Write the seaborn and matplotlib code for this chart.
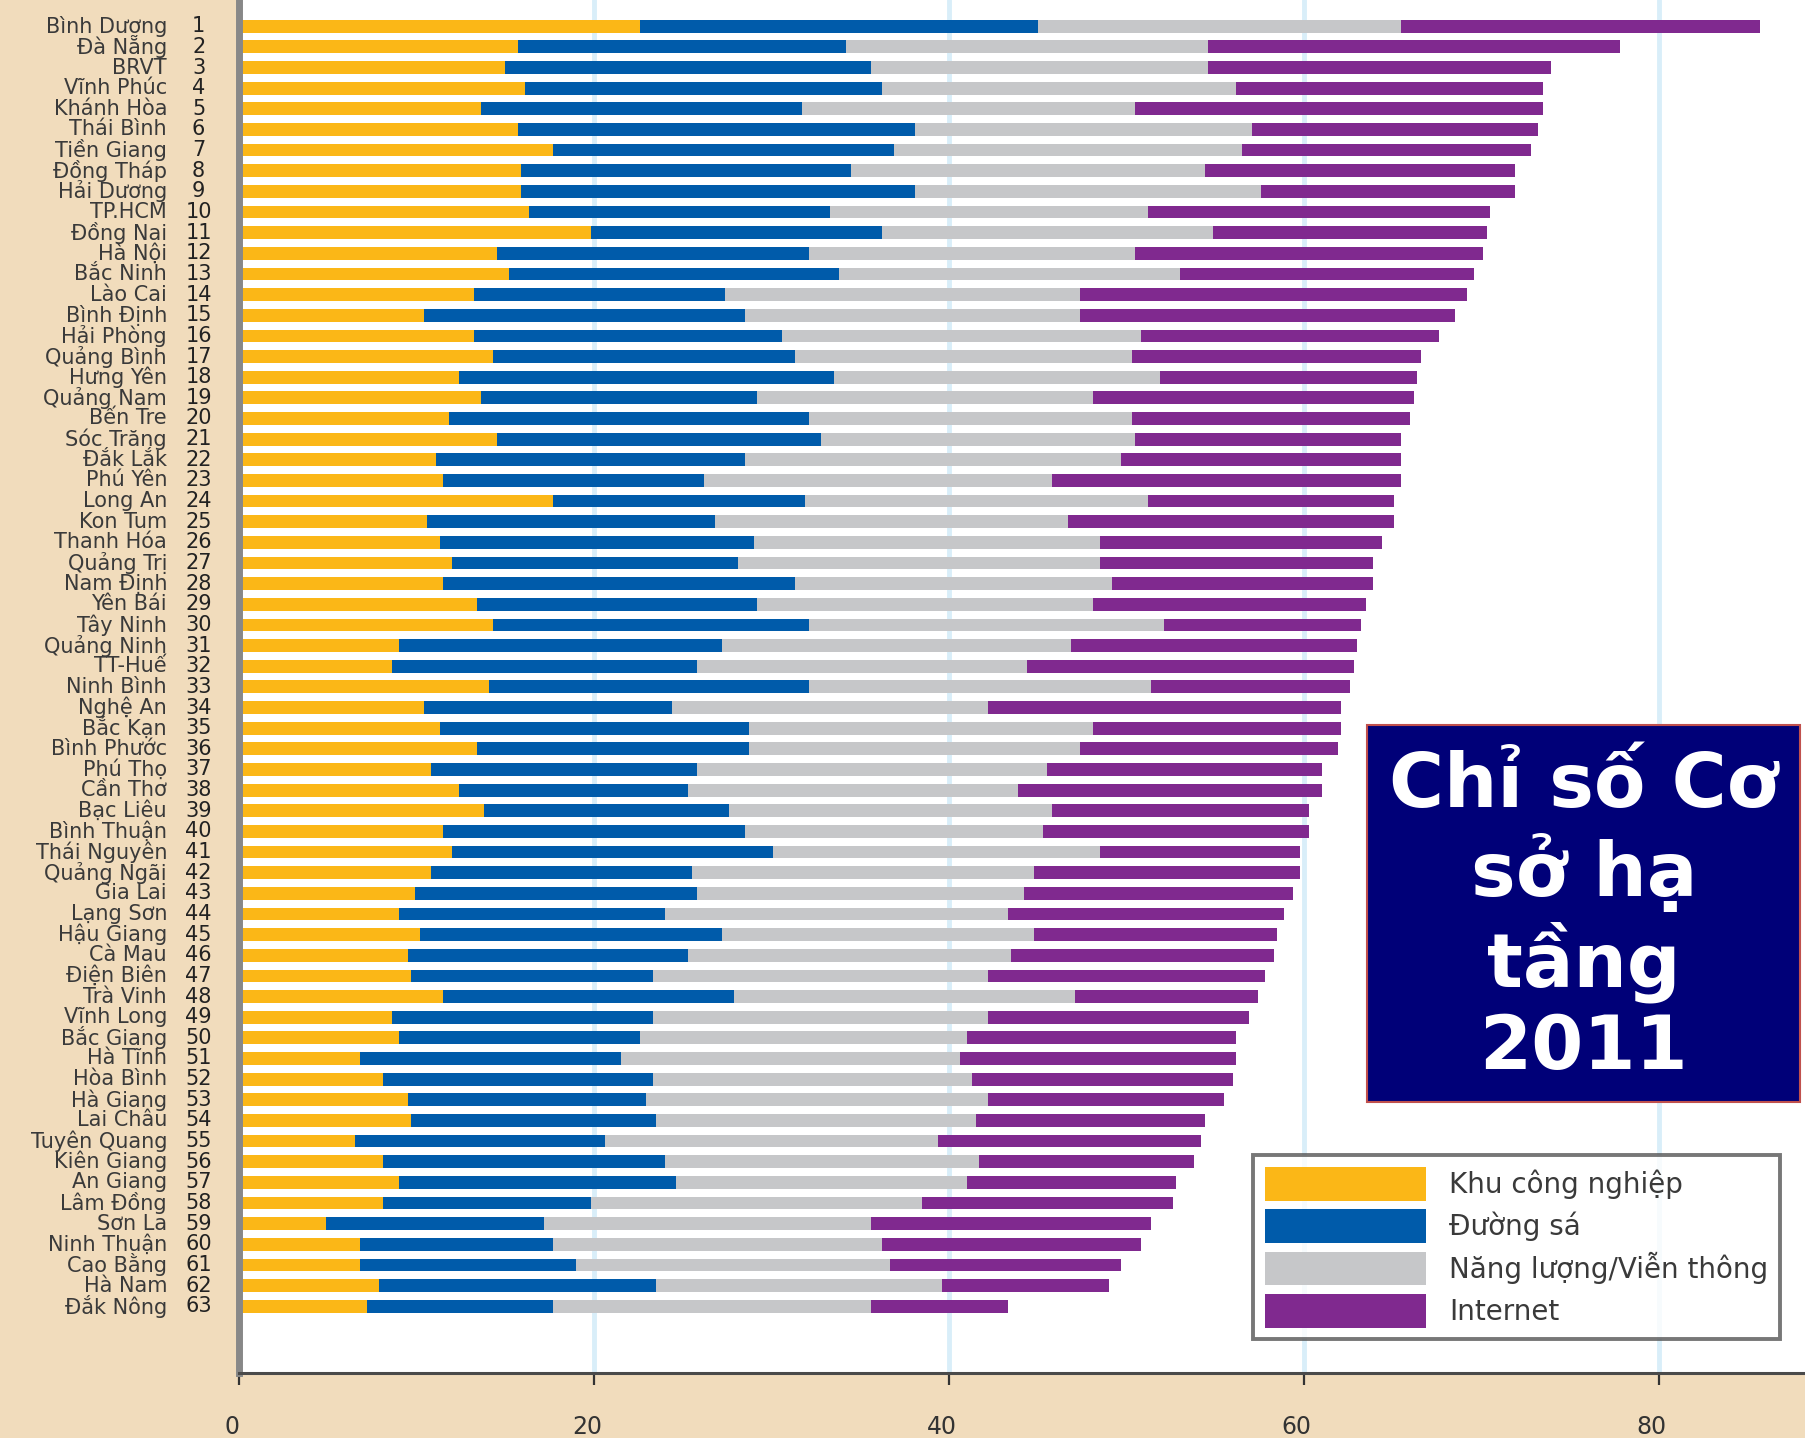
import matplotlib
matplotlib.use("Agg")
import matplotlib.pyplot as plt
from matplotlib.patches import Patch, Rectangle
from matplotlib.transforms import blended_transform_factory, ScaledTranslation
import seaborn as sns
import pandas as pd

# Provinces ranked by the 2011 infrastructure sub-index
provinces = [
    "Bình Dương", "Đà Nẵng", "BRVT", "Vĩnh Phúc", "Khánh Hòa", "Thái Bình", "Tiền Giang",
    "Đồng Tháp", "Hải Dương", "TP.HCM", "Đồng Nai", "Hà Nội", "Bắc Ninh", "Lào Cai",
    "Bình Định", "Hải Phòng", "Quảng Bình", "Hưng Yên", "Quảng Nam", "Bến Tre", "Sóc Trăng",
    "Đắk Lắk", "Phú Yên", "Long An", "Kon Tum", "Thanh Hóa", "Quảng Trị", "Nam Định",
    "Yên Bái", "Tây Ninh", "Quảng Ninh", "TT-Huế", "Ninh Bình", "Nghệ An", "Bắc Kạn",
    "Bình Phước", "Phú Thọ", "Cần Thơ", "Bạc Liêu", "Bình Thuận", "Thái Nguyên", "Quảng Ngãi",
    "Gia Lai", "Lạng Sơn", "Hậu Giang", "Cà Mau", "Điện Biên", "Trà Vinh", "Vĩnh Long",
    "Bắc Giang", "Hà Tĩnh", "Hòa Bình", "Hà Giang", "Lai Châu", "Tuyên Quang", "Kiên Giang",
    "An Giang", "Lâm Đồng", "Sơn La", "Ninh Thuận", "Cao Bằng", "Hà Nam", "Đắk Nông",
]
ranks = list(range(1, 64))

# Component scores
khu_cong_nghiep = [
    22.6, 15.7, 15.0, 16.1, 13.6, 15.7, 17.7, 15.9, 15.9, 16.3, 19.8, 14.5, 15.2, 13.2,
    10.4, 13.2, 14.3, 12.4, 13.6, 11.8, 14.5, 11.1, 11.5, 17.7, 10.6, 11.3, 12.0, 11.5,
    13.4, 14.3, 9.0, 8.6, 14.1, 10.4, 11.3, 13.4, 10.8, 12.4, 13.8, 11.5, 12.0, 10.8,
    9.9, 9.0, 10.2, 9.5, 9.7, 11.5, 8.6, 9.0, 6.8, 8.1, 9.5, 9.7, 6.5, 8.1,
    9.0, 8.1, 4.9, 6.8, 6.8, 7.9, 7.2,
]
duong_sa = [
    22.4, 18.5, 20.6, 20.1, 18.1, 22.4, 19.2, 18.6, 22.2, 17.0, 16.4, 17.6, 18.6, 14.2,
    18.1, 17.4, 17.0, 21.1, 15.6, 20.3, 18.3, 17.4, 14.7, 14.2, 16.2, 17.7, 16.1, 19.8,
    15.8, 17.8, 18.2, 17.2, 18.0, 14.0, 17.4, 15.3, 15.0, 12.9, 13.8, 17.0, 18.1, 14.7,
    15.9, 15.0, 17.0, 15.8, 13.6, 16.4, 14.7, 13.6, 14.7, 15.2, 13.4, 13.8, 14.1, 15.9,
    15.6, 11.7, 12.3, 10.9, 12.2, 15.6, 10.5,
]
nang_luong_vien_thong = [
    20.5, 20.4, 19.0, 20.0, 18.8, 19.0, 19.6, 19.9, 19.5, 17.9, 18.7, 18.4, 19.2, 20.0,
    18.9, 20.2, 19.0, 18.4, 18.9, 18.2, 17.7, 21.2, 19.6, 19.3, 19.9, 19.5, 20.4, 17.9,
    18.9, 20.0, 19.7, 18.6, 19.3, 17.8, 19.4, 18.7, 19.7, 18.6, 18.2, 16.8, 18.4, 19.3,
    18.4, 19.3, 17.6, 18.2, 18.9, 19.2, 18.9, 18.4, 19.1, 18.0, 19.3, 18.0, 18.8, 17.7,
    16.4, 18.7, 18.4, 18.5, 17.7, 16.1, 17.9,
]
internet = [
    20.2, 23.2, 19.3, 17.3, 23.0, 16.1, 16.3, 17.5, 14.3, 19.3, 15.4, 19.6, 16.6, 21.8,
    21.1, 16.8, 16.3, 14.5, 18.1, 15.7, 15.0, 15.8, 19.7, 13.9, 18.4, 15.9, 15.4, 14.7,
    15.4, 11.1, 16.1, 18.4, 11.2, 19.9, 14.0, 14.5, 15.5, 17.1, 14.5, 15.0, 11.3, 15.0,
    15.2, 15.6, 13.7, 14.8, 15.6, 10.3, 14.7, 15.2, 15.6, 14.7, 13.3, 12.9, 14.8, 12.1,
    11.8, 14.1, 15.8, 14.6, 13.0, 9.4, 7.7,
]

series_names = ["Khu công nghiệp", "Đường sá", "Năng lượng/Viễn thông", "Internet"]
series_colors = ["#FBB717", "#005BAA", "#C6C7C9", "#80298F"]
xticks = [0, 20, 40, 60, 80]

BG = "#F1DCBC"
TEXT = "#3a3a3a"

df = pd.DataFrame({
    "province": provinces,
    "rank": ranks,
    "s1": khu_cong_nghiep,
    "s2": duong_sa,
    "s3": nang_luong_vien_thong,
    "s4": internet,
})
# Cumulative ends of each stacked segment
df["c1"] = df["s1"]
df["c2"] = df["c1"] + df["s2"]
df["c3"] = df["c2"] + df["s3"]
df["c4"] = df["c3"] + df["s4"]

sns.set_theme(style="white")
plt.rcParams["font.family"] = ["DejaVu Sans"]

fig = plt.figure(figsize=(18.06, 14.38), dpi=100, facecolor=BG)
ax = fig.add_axes([0.1325, 0.0454, 1 - 0.1325, 1 - 0.0454])
ax.set_facecolor("white")

# Stacked bars: draw the longest cumulative first, shorter ones on top
for col, color in zip(["c4", "c3", "c2", "c1"], series_colors[::-1]):
    sns.barplot(data=df, x=col, y="province", orient="h", color=color,
                saturation=1, width=0.62, errorbar=None, linewidth=0, ax=ax)

ax.set_xlim(0, 88.3)
ax.set_ylim(65.22, -1.27)
ax.set_xlabel("")
ax.set_ylabel("")

ax.set_xticks(xticks)
ax.set_xticklabels([str(t) for t in xticks])
ax.tick_params(axis="x", direction="out", length=8.5, width=1.6, color="#333333",
               pad=22, labelsize=17, labelcolor="#333333", bottom=True)
ax.tick_params(axis="y", left=False, labelleft=False)
shift = ScaledTranslation(-0.07, 0, fig.dpi_scale_trans)
for lab in ax.get_xticklabels():
    lab.set_transform(lab.get_transform() + shift)

ax.set_axisbelow(True)
ax.xaxis.grid(True, color="#D9EEF9", linewidth=3.5)
ax.yaxis.grid(False)

for side in ["top", "right"]:
    ax.spines[side].set_visible(False)
ax.spines["left"].set_color("#888888")
ax.spines["left"].set_linewidth(5)
ax.spines["bottom"].set_color("#4a4a4a")
ax.spines["bottom"].set_linewidth(2.2)

# Province names and rank numbers to the left of the bars
trans = blended_transform_factory(fig.transFigure, ax.transData)
for i, (name, rk) in enumerate(zip(provinces, ranks)):
    ax.text(0.0925, i, name, transform=trans, ha="right", va="center",
            fontsize=15, color=TEXT, clip_on=False)
    ax.text(0.110, i, str(rk), transform=trans, ha="center", va="center",
            fontsize=15, color="#222222", clip_on=False)

# Legend
handles = [Patch(facecolor=c, edgecolor="none", label=n)
           for n, c in zip(series_names, series_colors)]
leg = ax.legend(handles=handles, loc="lower left", bbox_to_anchor=(0.647, 0.0243),
                borderaxespad=0, frameon=True, fancybox=False, fontsize=20,
                handlelength=5.8, handleheight=1.5, handletextpad=0.85,
                labelspacing=0.3, borderpad=0.42)
leg.get_frame().set_edgecolor("#555555")
leg.get_frame().set_linewidth(2.8)
leg.get_frame().set_facecolor("white")
for t in leg.get_texts():
    t.set_color(TEXT)

# Title box
fig.add_artist(Rectangle((0.757, 0.234), 0.2398, 0.262, transform=fig.transFigure,
                         facecolor="#000078", edgecolor="#C0504D", linewidth=1.5,
                         zorder=5))
fig.text(0.877, 0.362, "Chỉ số Cơ\nsở hạ\ntầng\n2011", ha="center", va="center",
         color="white", fontsize=54, fontweight="bold", linespacing=1.15, zorder=6)

fig.savefig("out.png", dpi=100, facecolor=BG)
